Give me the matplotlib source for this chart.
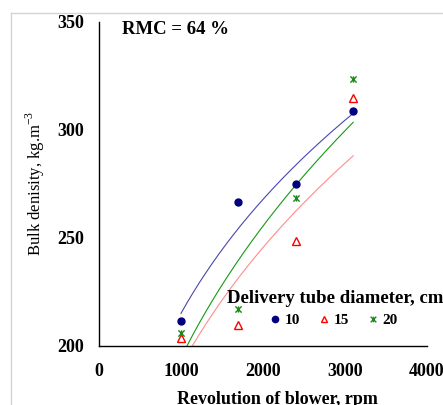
import numpy as np
import matplotlib.pyplot as plt
from matplotlib.lines import Line2D
from matplotlib.path import Path

# blower speed, rpm
rpm = [1000, 1700, 2400, 3100]

# bulk density, kg/m3, for each delivery tube diameter (cm)
dens_10 = [211.4, 266.5, 274.7, 308.6]
dens_15 = [203.6, 209.7, 248.6, 314.5]
dens_20 = [206.2, 217.0, 268.4, 323.5]

series_names = ['10', '15', '20']
xticks = [0, 1000, 2000, 3000, 4000]
yticks = [200, 250, 300, 350]

plt.rcParams['font.family'] = ['Liberation Serif', 'DejaVu Serif']
plt.rcParams['mathtext.fontset'] = 'custom'
plt.rcParams['mathtext.rm'] = 'Liberation Serif'

fig = plt.figure(figsize=(4.43, 4.05), dpi=100)
ax = fig.add_axes([0.2235, 0.1457, 0.7404, 0.8007])

# light grey frame of the chart area (right and bottom sides are cut off)
fx = 11 / 443
fy = 1 - 13 / 405
fig.add_artist(Line2D([fx, 1.0], [fy, fy], transform=fig.transFigure,
                      color='#d4d4d4', linewidth=1.0))
fig.add_artist(Line2D([fx, fx], [0, fy], transform=fig.transFigure,
                      color='#d4d4d4', linewidth=1.0))

# excel-like star marker: an x with a vertical stroke
star = Path([(-1, -1), (1, 1), (-1, 1), (1, -1), (0, -1), (0, 1)],
            [Path.MOVETO, Path.LINETO, Path.MOVETO, Path.LINETO,
             Path.MOVETO, Path.LINETO])

def power_fit(x, y):
    # excel style power trendline y = a * x^b
    b, lna = np.polyfit(np.log(x), np.log(y), 1)
    xs = np.linspace(min(x), max(x), 200)
    return xs, np.exp(lna) * xs ** b

lw = 0.8
xs, ys = power_fit(rpm, dens_10)
ax.plot(xs, ys, '-', color='#4848b0', linewidth=lw)
xs, ys = power_fit(rpm, dens_15)
ax.plot(xs, ys, '-', color='#ff8c8c', linewidth=lw)
xs, ys = power_fit(rpm, dens_20)
ax.plot(xs, ys, '-', color='#159a15', linewidth=lw)

ax.plot(rpm, dens_10, 'o', color='#000080', markersize=5,
        label=series_names[0], linestyle='none')
ax.plot(rpm, dens_15, '^', markerfacecolor='none', markeredgecolor='#ff0000',
        markeredgewidth=1.0, markersize=5.5, label=series_names[1], linestyle='none')
ax.plot(rpm, dens_20, marker=star, color='#1a8a1a', markeredgewidth=1.0,
        markersize=4.5, label=series_names[2], linestyle='none')

ax.set_xlim(0, 4000)
ax.set_ylim(200, 350)
ax.set_xticks(xticks)
ax.set_yticks(yticks)
ax.tick_params(length=0, labelsize=13)
ax.tick_params(axis='y', pad=11)
ax.tick_params(axis='x', pad=12)
for lab in ax.get_xticklabels() + ax.get_yticklabels():
    lab.set_fontweight('bold')

ax.spines['top'].set_visible(False)
ax.spines['right'].set_visible(False)
ax.spines['left'].set_linewidth(1.0)
ax.spines['bottom'].set_linewidth(1.0)

ax.set_xlabel('Revolution of blower, rpm', fontsize=13, fontweight='bold')
ax.xaxis.set_label_coords(0.544, -0.14)
ax.set_ylabel('Bulk denisity, kg.m$^{-3}$', fontsize=12, labelpad=7)

ax.text(0.07, 0.975, 'RMC = 64 %', transform=ax.transAxes, fontsize=13.5,
        fontweight='bold', va='center', ha='left')

# legend title as plain text, entries indented below it
ax.text(0.39, 0.145, 'Delivery tube diameter, cm', transform=ax.transAxes,
        fontsize=13.5, fontweight='bold', va='center', ha='left')
leg = ax.legend(loc='center left', bbox_to_anchor=(0.5226, 0.08), ncol=3,
                frameon=False, handlelength=0.6, handletextpad=0.35,
                columnspacing=1.24, borderaxespad=0, borderpad=0,
                markerscale=0.9, prop={'size': 11, 'weight': 'bold'})

fig.savefig('out.png', dpi=100)
